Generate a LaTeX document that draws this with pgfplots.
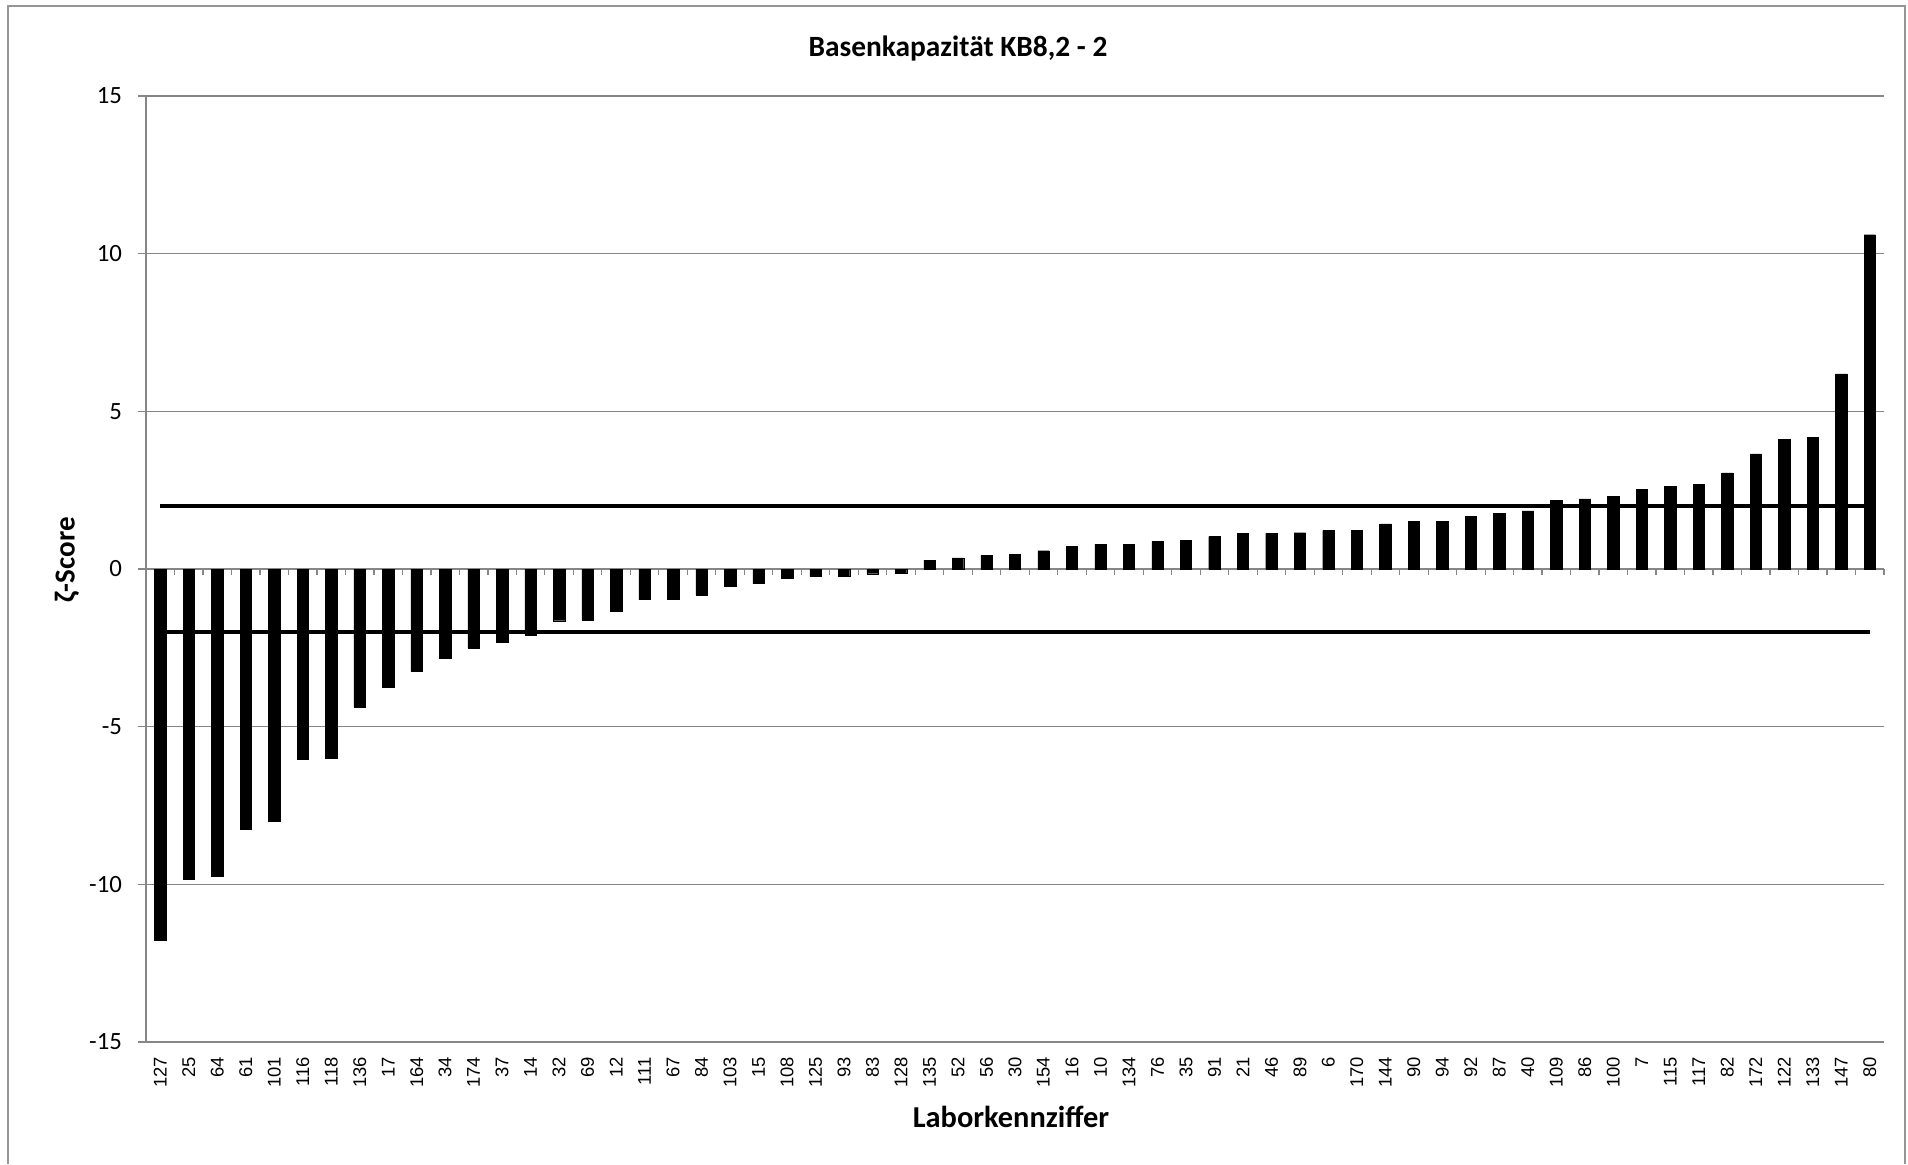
\documentclass[border=0pt]{standalone}
\usepackage{fontspec}
\setmainfont{Carlito}
\newfontfamily\arialf{Liberation Sans}
\usepackage{pgfplots}
\pgfplotsset{compat=1.18}
\definecolor{gridgray}{RGB}{134,134,134}
\definecolor{bordergray}{RGB}{150,150,150}
\begin{document}
\begin{tikzpicture}
\useasboundingbox (0,0) rectangle (954pt,582pt);
\draw[bordergray, line width=0.8pt] (4pt,0) -- (4pt,579pt) -- (952.5pt,579pt) -- (952.5pt,0);
\begin{axis}[
  at={(73pt,61pt)}, anchor=south west,
  scale only axis, width=869pt, height=473pt,
  xmin=-0.5, xmax=60.5, ymin=-15, ymax=15,
  axis x line*=bottom, axis y line*=left,
  axis line style={gridgray, line width=0.6pt},
  ymajorgrids, grid style={gridgray, line width=0.6pt},
  ytick={-15,-10,-5,0,5,10,15},
  yticklabels={-15,-10,-5,0,5,10,15},
  yticklabel style={font=\fontsize{12.4}{14}\selectfont, xshift=-4.5pt},
  ytick style={gridgray, line width=0.6pt},
  tick align=outside, major tick length=4pt,
  xtick={0,...,60},
  xticklabels={127,25,64,61,101,116,118,136,17,164,34,174,37,14,32,69,12,111,67,84,103,15,108,125,93,83,128,135,52,56,30,154,16,10,134,76,35,91,21,46,89,6,170,144,90,94,92,87,40,109,86,100,7,115,117,82,172,122,133,147,80},
  xtick style={draw=none},
  xticklabel style={rotate=90, anchor=east, font=\arialf\fontsize{9.2}{11}\selectfont},
  clip=false,
]
\addplot[ybar, bar width=5.7pt, fill=black, draw=black, line width=0.2pt] coordinates {
(0,-11.76) (1,-9.84) (2,-9.75) (3,-8.26) (4,-8.0) (5,-6.04) (6,-6.0) (7,-4.37) (8,-3.74) (9,-3.25)
(10,-2.84) (11,-2.52) (12,-2.33) (13,-2.09) (14,-1.64) (15,-1.62) (16,-1.33) (17,-0.97) (18,-0.96) (19,-0.83)
(20,-0.56) (21,-0.46) (22,-0.29) (23,-0.24) (24,-0.24) (25,-0.15) (26,-0.12) (27,0.28) (28,0.35) (29,0.43)
(30,0.47) (31,0.58) (32,0.71) (33,0.78) (34,0.78) (35,0.87) (36,0.90) (37,1.03) (38,1.12) (39,1.13)
(40,1.15) (41,1.22) (42,1.22) (43,1.43) (44,1.52) (45,1.52) (46,1.66) (47,1.77) (48,1.84) (49,2.17)
(50,2.22) (51,2.30) (52,2.52) (53,2.61) (54,2.69) (55,3.05) (56,3.65) (57,4.12) (58,4.18) (59,6.19)
(60,10.6)
};
\addplot[black, line width=2pt, no marks, sharp plot] coordinates {(0,2) (60,2)};
\addplot[black, line width=2pt, no marks, sharp plot] coordinates {(0,-2) (60,-2)};
\pgfplotsinvokeforeach{0,...,60}{
  \draw[gridgray, line width=0.6pt] (axis cs:#1+0.5,0) -- ([yshift=-3pt]axis cs:#1+0.5,0);
}
\end{axis}
\node[font=\bfseries\fontsize{14.7}{17}\selectfont] at (479pt,557.5pt) {Basenkapazität KB8,2 - 2};
\node[font=\bfseries\fontsize{15.2}{17}\selectfont] at (505.5pt,23.5pt) {Laborkennziffer};
\node[font=\bfseries\fontsize{14.5}{17}\selectfont, rotate=90] at (33.5pt,302pt) {ζ-Score};
\end{tikzpicture}
\end{document}
